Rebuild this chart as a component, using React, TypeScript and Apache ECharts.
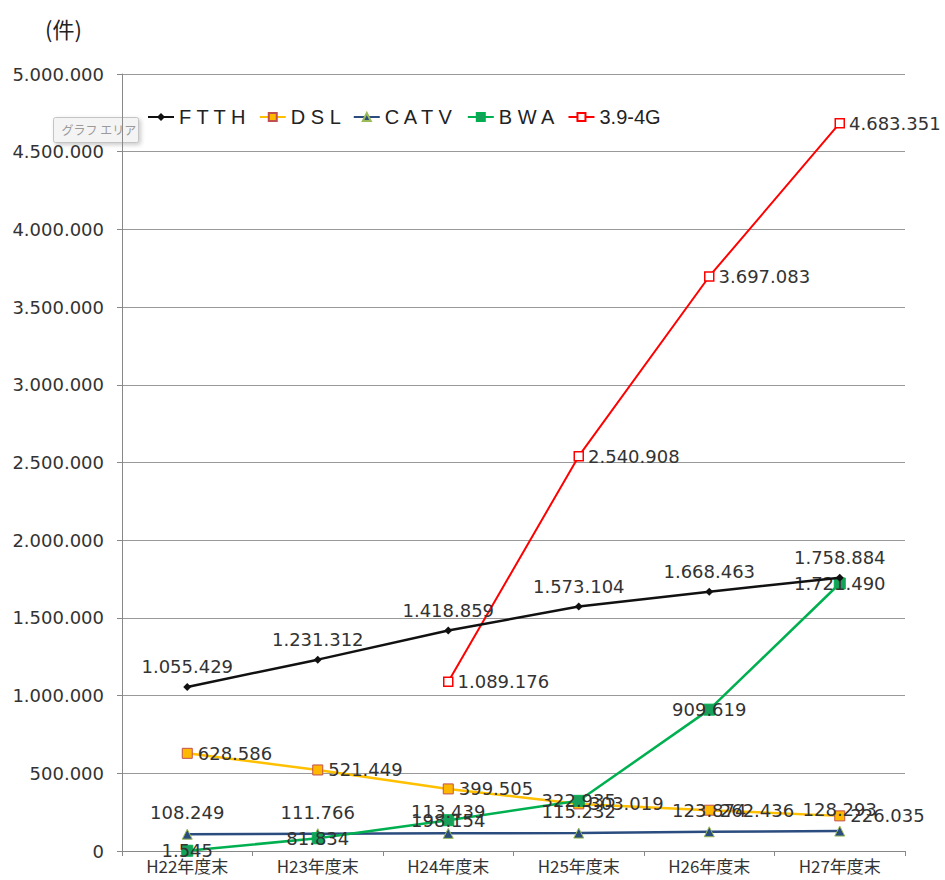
import React, { useEffect, useRef } from "react";
import * as echarts from "echarts";

const categories = ["H22年度末", "H23年度末", "H24年度末", "H25年度末", "H26年度末", "H27年度末"];
const ftth = [1055429, 1231312, 1418859, 1573104, 1668463, 1758884];
const dsl = [628586, 521449, 399505, 303019, 262436, 226035];
const catv = [108249, 111766, 113439, 115232, 123874, 128293];
const bwa = [1545, 81834, 198154, 322935, 909619, 1721490];
const lte = ["-", "-", 1089176, 2540908, 3697083, 4683351];
const seriesNames = ["ＦＴＴＨ", "ＤＳＬ", "ＣＡＴＶ", "ＢＷＡ", "3.9-4G"];
const legendLabels = ["F T T H", "D S L", "C A T V", "B W A", "3.9-4G"];

const fmt = (v: number) => Math.round(v).toLocaleString("en-US").replace(/,/g, ".");
const numFont = "DejaVu Sans";
const jpFont = "Noto Sans CJK JP";

export default function App() {
  const ref = useRef<HTMLDivElement>(null);
  useEffect(() => {
    if (!ref.current) return;
    const chart = echarts.init(ref.current, null, { renderer: "svg" });
    const label = (position: string, distance = 5) => ({
      show: true,
      position,
      distance,
      fontFamily: numFont,
      fontSize: 18,
      color: "#333",
      formatter: (p: any) => fmt(Array.isArray(p.value) ? p.value[1] : p.value),
    });
    chart.setOption({
      animation: false,
      backgroundColor: "#fff",
      grid: { left: 122, right: 40, top: 74, bottom: 29 },
      legend: {
        left: 142,
        top: 102,
        itemWidth: 26,
        itemHeight: 10,
        itemGap: 12,
        data: seriesNames,
        formatter: (name: string) => legendLabels[seriesNames.indexOf(name)] ?? name,
        textStyle: { fontFamily: "Liberation Sans", fontSize: 20, color: "#222" },
      },
      graphic: [
        {
          type: "text",
          left: 45,
          top: 17,
          style: { text: "(件)", font: `22px "${jpFont}"`, fill: "#222" },
        },
        {
          type: "group",
          left: 53,
          top: 117,
          children: [
            {
              type: "rect",
              shape: { x: 0, y: 0, width: 85, height: 25, r: 2 },
              style: {
                fill: "#f4f4f4",
                stroke: "#c4c4c4",
                lineWidth: 1,
                shadowBlur: 4,
                shadowOffsetX: 2,
                shadowOffsetY: 2,
                shadowColor: "rgba(0,0,0,0.2)",
              },
            },
            {
              type: "text",
              x: 8,
              y: 6,
              style: { text: "グラフ エリア", font: `12px "${jpFont}"`, fill: "#9a9a9a" },
            },
          ],
        },
      ],
      xAxis: {
        type: "category",
        data: categories,
        boundaryGap: true,
        axisLine: { lineStyle: { color: "#888" } },
        axisTick: { show: true, length: 5, alignWithLabel: false, lineStyle: { color: "#888" } },
        axisLabel: { fontFamily: jpFont, fontSize: 17, color: "#333", margin: 6 },
      },
      yAxis: {
        type: "value",
        min: 0,
        max: 5000000,
        interval: 500000,
        axisLine: { show: true, lineStyle: { color: "#888" } },
        axisTick: { show: true, length: 5, lineStyle: { color: "#888" } },
        splitLine: { lineStyle: { color: "#999" } },
        axisLabel: { fontFamily: numFont, fontSize: 18, color: "#333", margin: 18, formatter: (v: number) => fmt(v) },
      },
      series: [
        {
          name: seriesNames[0],
          type: "line",
          data: ftth,
          symbol: "diamond",
          symbolSize: 8,
          itemStyle: { color: "#111" },
          lineStyle: { color: "#111", width: 2.5 },
          label: label("top", 7),
          z: 5,
        },
        {
          name: seriesNames[1],
          type: "line",
          data: dsl,
          symbol: "rect",
          symbolSize: 10,
          itemStyle: { color: "#FFB800", borderColor: "#C0504D", borderWidth: 1 },
          lineStyle: { color: "#FFC000", width: 2.5 },
          label: label("right", 5),
          z: 3,
        },
        {
          name: seriesNames[2],
          type: "line",
          data: catv,
          symbol: "triangle",
          symbolSize: 10,
          itemStyle: { color: "#2B4C7E", borderColor: "#9BBB59", borderWidth: 1 },
          lineStyle: { color: "#2B4C7E", width: 2.5 },
          label: label("top", 7),
          z: 4,
        },
        {
          name: seriesNames[3],
          type: "line",
          data: bwa,
          symbol: "rect",
          symbolSize: 11,
          itemStyle: { color: "#16A05A", borderColor: "#00B050", borderWidth: 1 },
          lineStyle: { color: "#00B050", width: 2.5 },
          label: label("inside"),
          z: 4,
        },
        {
          name: seriesNames[4],
          type: "line",
          data: lte,
          connectNulls: false,
          symbol: "rect",
          symbolSize: 9,
          itemStyle: { color: "#fff", borderColor: "#FF0000", borderWidth: 1.5 },
          lineStyle: { color: "#FF0000", width: 2 },
          label: label("right", 4),
          z: 4,
        },
      ],
    });
    return () => chart.dispose();
  }, []);
  return (
    <div
      ref={ref}
      style={{ position: "fixed", left: 0, top: 0, width: 945, height: 880, background: "#fff" }}
    />
  );
}
